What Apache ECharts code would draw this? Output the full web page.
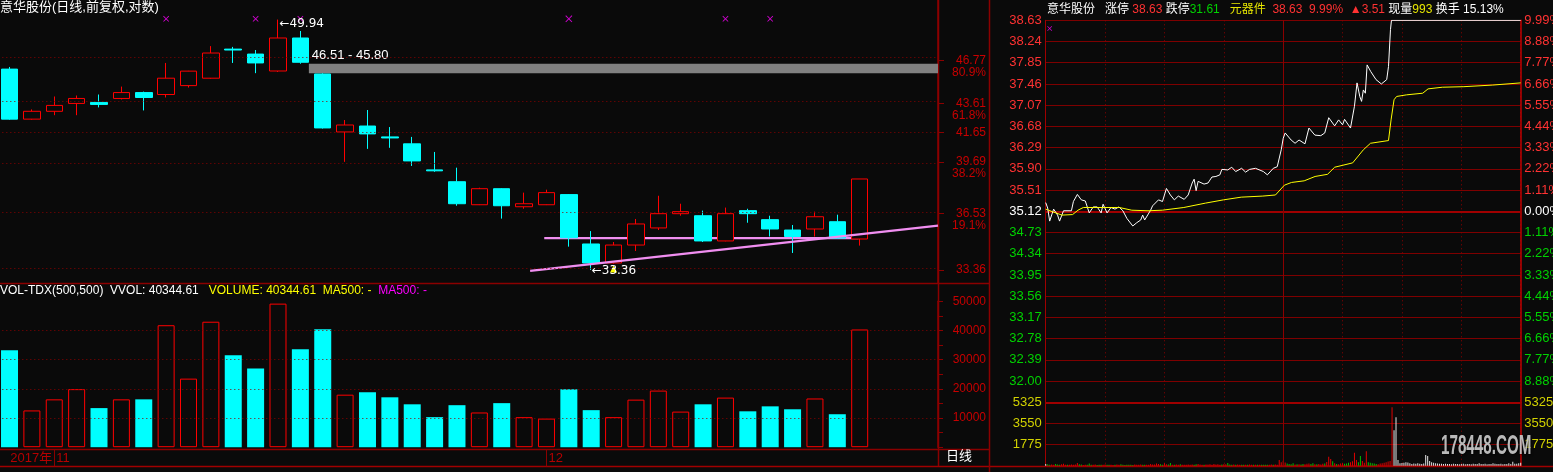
<!DOCTYPE html>
<html><head><meta charset="utf-8">
<script src="https://cdn.jsdelivr.net/npm/echarts@6/dist/echarts.min.js"></script>
<style>html,body{margin:0;padding:0;background:#0a0a0a;}#c{width:1553px;height:472px;}</style>
</head><body><div id="c"></div>
<script>
// ---------------- daily K-line data (前复权) ----------------
const dates = ['2017-10-30','2017-10-31','2017-11-01','2017-11-02','2017-11-03','2017-11-06','2017-11-07','2017-11-08','2017-11-09','2017-11-10',
 '2017-11-13','2017-11-14','2017-11-15','2017-11-16','2017-11-17','2017-11-20','2017-11-21','2017-11-22','2017-11-23','2017-11-24',
 '2017-11-27','2017-11-28','2017-11-29','2017-11-30','2017-12-01','2017-12-04','2017-12-05','2017-12-06','2017-12-07','2017-12-08',
 '2017-12-11','2017-12-12','2017-12-13','2017-12-14','2017-12-15','2017-12-18','2017-12-19','2017-12-20','2017-12-21'];
const blankSlots = [' ', '  ', '   '];
const opens  = [46.11,42.54,43.08,43.63,43.70,43.98,44.40,44.26,44.90,45.44,47.62,47.24,45.97,48.48,45.75,41.67,42.07,41.34,40.88,39.20,
                38.46,37.06,38.03,36.94,37.06,37.67,34.79,33.74,34.73,35.70,36.53,36.41,34.96,36.71,36.18,35.58,35.64,36.06,35.07];
const closes = [42.54,43.08,43.49,43.98,43.56,44.40,44.05,45.44,45.96,47.32,47.55,46.57,48.48,46.62,41.94,42.14,41.54,41.27,39.77,39.14,
                37.12,38.03,37.00,37.12,37.79,35.14,33.74,34.73,35.93,36.53,36.65,34.96,36.53,36.53,35.64,35.21,36.35,35.12,38.63];
const lows   = [42.50,42.50,42.81,42.81,43.35,43.91,43.14,44.05,44.76,45.40,46.57,45.81,45.90,46.51,41.90,39.71,40.55,40.62,39.45,39.08,
                37.00,37.04,36.24,36.82,37.04,34.64,33.36,33.70,34.40,35.58,36.41,34.90,34.94,36.00,35.21,34.29,35.21,35.10,34.70];
const highs  = [46.27,43.21,44.12,44.19,44.26,44.83,44.47,46.57,45.98,47.85,47.79,47.55,49.94,49.03,45.80,42.48,43.17,42.00,41.34,40.35,
                39.34,38.09,38.06,37.79,37.97,37.70,35.52,34.90,36.22,37.60,37.12,36.71,36.89,36.82,36.41,35.87,36.65,36.47,38.63];
const volumes = [33200,12600,16400,19900,13400,16400,16400,41800,23500,43000,31500,27000,49200,33600,40400,18000,18800,17100,14700,10300,
                 14400,11900,15100,10300,9800,19900,12700,10300,16300,19400,12200,14700,17000,12300,14000,13000,16700,11300,40344.61];
// price axis tick labels (golden-section levels) and their percent labels
const kTickPrices = [33.36, 36.53, 39.69, 41.65, 43.61, 46.77];
const kTickPcts   = ['', '19.1%', '38.2%', '', '61.8%', '80.9%'];
const volTicks = [10000, 20000, 30000, 40000];
// top signal markers (magenta crosses) at these candles
const markerIdx = [7, 11, 13, 25, 32, 34];
const markerPrice = 50.0;
// hand-drawn trend lines [candle position, price]
const riseLine = [[23.27, 33.31], [41.5, 35.83]];
const flatLine = [[23.9, 35.12], [37.94, 35.12]];

// ---------------- intraday (分时) data for 2017-12-21 ----------------
const prevClose = 35.12, limitUp = 38.63, limitDown = 31.61, priceStep = 0.39;
const volTop = 5325, volStep = 1775;
const tickMinutes = [0,1,2,4,6,7,9,13,14,16,18,20,22,24,26,28,29,31,33,35,37,39,41,44,46,48,49,50,53,54,
  57,59,61,63,65,67,70,72,74,75,76,77,80,82,84,86,88,89,92,94,96,99,101,103,106,110,112,115,117,119,
  120,121,124,126,128,131,133,136,139,141,143,146,148,150,151,154,156,157.3,158.7,159.6,
  160.5,161.5,162.4,164.2,166.9,169.6,172.3,173.2,174.2,174.7,240];
const tickPrices = [35.28,35.18,34.94,35.16,35.05,34.94,35.13,35.13,35.30,35.43,35.33,35.31,35.09,35.20,35.20,35.09,35.25,35.09,35.19,35.16,
  35.20,35.13,34.99,34.85,34.91,34.96,35.05,34.96,35.14,35.22,35.33,35.30,35.54,35.42,35.33,35.40,35.34,35.42,35.64,35.71,
  35.50,35.67,35.62,35.64,35.75,35.76,35.79,35.89,35.88,35.93,35.85,35.91,35.84,35.89,35.91,35.85,35.79,35.91,35.94,36.25,
  36.46,36.56,36.43,36.37,36.43,36.36,36.65,36.52,36.51,36.56,36.84,36.69,36.80,36.71,36.81,36.65,37.05,37.48,37.23,37.14,
  37.35,37.29,37.81,37.69,37.54,37.46,37.54,37.78,38.46,38.63,38.63];
const avgMinutes = [0,3.6,8.2,13.6,16.3,19,26.3,37.2,43.5,51.7,58.9,69.8,80.7,89.8,98.8,109.7,116.1,120.6,124.2,130.6,
  136.1,142.4,146,155.1,160.5,164.1,173.2,174.5,176,177.3,182.3,190.5,193.2,200.4,211.3,225.9,240];
const avgPrices = [35.16,35.11,35.05,35.06,35.14,35.19,35.19,35.19,35.14,35.13,35.14,35.19,35.27,35.33,35.38,35.40,35.42,35.60,35.65,35.68,
  35.76,35.80,35.93,36.01,36.25,36.37,36.42,36.80,37.17,37.23,37.26,37.29,37.37,37.40,37.41,37.44,37.48];
const minuteVolumes = [
  150,120,90,110,80,140,100,90,120,160,   90,80,70,110,90,100,230,120,100,60,
  90,70,180,90,80,110,60,90,80,70,        110,80,70,90,60,80,100,90,120,80,
  60,90,70,80,60,100,80,70,110,90,        80,70,80,150,110,100,180,140,120,90,
  200,120,100,230,90,80,110,90,120,80,    90,70,110,80,100,90,120,140,100,80,
  90,110,100,130,90,140,100,120,90,110,   120,130,230,100,90,110,80,100,90,70,
  80,90,70,100,80,90,70,80,90,80,         70,90,80,70,100,90,110,80,480,300,
  420,260,180,150,120,200,110,130,120,100, 140,120,160,180,140,200,130,120,150,110,
  160,180,320,753,560,380,200,150,120,180, 200,160,180,250,300,380,1090,480,300,812,
  400,250,1230,300,250,200,180,150,120,180, 200,250,300,350,400,4940,2990,4100,477,200,
  220,250,300,280,200,150,180,160,200,170, 150,180,895,810,400,300,250,200,180,160,
  170,150,160,140,150,130,160,140,150,130, 140,160,130,150,140,130,160,150,140,200,
  150,140,160,130,150,140,200,170,150,140, 160,130,150,140,200,150,335,160,170,200,
  250];
const minuteVolDir = ['wggrrgggrr','rgrrrrrggr','rgggrrgggr','rggrrgrrgg','gggggrrrrg','grrrrrrrgg','rrggrgrrgr','rrrrrggrrr',
  'grrrrrrrrg','rrgggrgrrg','grgrrgrgrg','gggrrgrrrr','rrggggrgrg','grrrggrgrr','rgrrrgrgrr','rgggrrrrgg','rrrgggggrr','rrrrrrwwww',
  'wwwwwwwwww','wwwwwwwwww','wwwwwwwwww','wwwwwwwwww','wwwwwwwwww','wwwwwwwwww','w'].join('');
const intraMarker = [2, 38.48];

// ---------------- layout / style ----------------
const LN = Math.log;
const axisTopPrice = 51.54, axisBottomPrice = 32.67;
const FONT = '"Liberation Sans", "Noto Sans CJK SC", sans-serif';
const BG = '#0a0a0a', CYAN = '#00ffff', RED = '#ff0000', FRAME = '#8b0000', DOT = '#8a0000';
const AX_RED = '#c80000', DATE_RED = '#b40000';
const upC = '#ff3232', dnC = '#00d200', YEL = '#d2d200';

const cats = dates.concat(blankSlots);
const kData = dates.map((d, i) => [LN(opens[i]), LN(closes[i]), LN(lows[i]), LN(highs[i])]);
const hiIdx = highs.indexOf(Math.max(...highs));
const loIdx = lows.indexOf(Math.min(...lows));
const gapTop = lows[13], gapBottom = highs[14];

const kTickLn = kTickPrices.map(LN);
const pctOf = v => { const i = kTickLn.findIndex(t => Math.abs(t - v) < 1e-6); return i >= 0 ? kTickPcts[i] : ''; };
const priceOf = v => { const i = kTickLn.findIndex(t => Math.abs(t - v) < 1e-6); return i >= 0 ? kTickPrices[i].toFixed(2) : ''; };

const volData = volumes.map((v, i) => closes[i] >= opens[i]
  ? { value: v, itemStyle: { color: BG, borderColor: RED, borderWidth: 1 } }
  : { value: v, itemStyle: { color: CYAN } });

const firstMonthIdx = dates.findIndex((d, i) => i > 0 && d.slice(5, 7) !== dates[i - 1].slice(5, 7));
const isMonthStart = (idx) => idx > 0 && idx < dates.length && dates[idx].slice(5, 7) !== dates[idx - 1].slice(5, 7);

const near = (a, b) => Math.abs(a - b) < 0.001;
const priceColor = v => { v = parseFloat(v); return near(v, prevClose) ? '#ffffff' : (v > prevClose ? upC : dnC); };
const dirColor = { r: '#e00000', g: '#00c000', w: '#e6e6e6' };

const xPath = 'path://M0,1L1,0L5,4L9,0L10,1L6,5L10,9L9,10L5,6L1,10L0,9L4,5Z';
const NOZ = { onZero: false };

const option = {
  backgroundColor: BG,
  animation: false,
  textStyle: { fontFamily: FONT },
  title: [
    { text: '意华股份(日线,前复权,对数)', left: 0, top: 1, padding: 0,
      textStyle: { color: '#ffffff', fontSize: 13, fontWeight: 'normal', fontFamily: FONT } },
    { text: '{w|VOL-TDX(500,500)  VVOL: 40344.61}   {y|VOLUME: 40344.61  MA500: -}  {m|MA500: -}',
      left: 0, top: 285, padding: 0,
      textStyle: { fontSize: 12, fontWeight: 'normal', fontFamily: FONT,
        rich: { w: { color: '#ffffff', fontSize: 12, fontFamily: FONT }, y: { color: '#ffff00', fontSize: 12, fontFamily: FONT }, m: { color: '#ff00ff', fontSize: 12, fontFamily: FONT } } } },
    { text: '{w|意华股份   涨停 }{r|38.63} {w|跌停}{g|31.61}   {y|元器件}  {r|38.63  9.99%  ▲3.51} {w|现量}{y|993} {w|换手 15.13%}',
      left: 1047, top: 4, padding: 0,
      textStyle: { fontSize: 12, fontWeight: 'normal', fontFamily: FONT,
        rich: { w: { color: '#ffffff', fontSize: 12, fontFamily: FONT }, r: { color: upC, fontSize: 12, fontFamily: FONT },
                g: { color: dnC, fontSize: 12, fontFamily: FONT }, y: { color: '#e6e600', fontSize: 12, fontFamily: FONT } } } },
    { text: '日线', left: 946, top: 450, padding: 0,
      textStyle: { color: '#ffffff', fontSize: 13, fontWeight: 'normal', fontFamily: FONT } }
  ],
  grid: [
    { left: -1.67, top: 0, width: 939.67, height: 283, outerBoundsMode: 'none', containLabel: false },
    { left: -1.67, top: 301.3, width: 939.67, height: 145.9, outerBoundsMode: 'none', containLabel: false },
    { left: 1045.7, top: 20.3, width: 475, height: 382, outerBoundsMode: 'none', containLabel: false },
    { left: 1045.7, top: 402.7, width: 475, height: 63, outerBoundsMode: 'none', containLabel: false }
  ],
  xAxis: [
    { gridIndex: 0, type: 'category', position: 'bottom', data: cats, show: false, axisLine: { show: false, onZero: false }, splitLine: { show: false } },
    { gridIndex: 0, type: 'value', position: 'bottom', min: -0.5, max: cats.length - 0.5, show: false, axisLine: { show: false, onZero: false }, splitLine: { show: false } },
    { gridIndex: 1, type: 'category', position: 'bottom', data: cats, offset: 2,
      axisLine: { show: false, onZero: false },
      axisTick: { show: true, alignWithLabel: true, length: 17, interval: (idx) => isMonthStart(idx), lineStyle: { color: FRAME, width: 1 } },
      axisLabel: { show: true, interval: (idx) => isMonthStart(idx), margin: 3, align: 'left', padding: [0, 0, 0, 2], hideOverlap: false,
        color: DATE_RED, fontSize: 13, fontFamily: FONT,
        formatter: (val) => String(parseInt(val.slice(5, 7), 10)) },
      splitLine: { show: false } },
    { gridIndex: 2, type: 'value', position: 'bottom', min: 0, max: 240, interval: 30,
      axisLine: { show: false, onZero: false }, axisTick: { show: false }, axisLabel: { show: false },
      splitLine: { show: true, lineStyle: { color: FRAME, type: [1, 3], width: 1 } } },
    { gridIndex: 3, type: 'value', position: 'bottom', min: 0, max: 240, interval: 30,
      axisLine: { show: false, onZero: false }, axisTick: { show: false }, axisLabel: { show: false },
      splitLine: { show: true, lineStyle: { color: FRAME, type: [1, 3], width: 1 } } },
    { gridIndex: 1, type: 'category', position: 'bottom', data: cats, offset: 2,
      axisLine: { show: false, onZero: false }, axisTick: { show: false }, splitLine: { show: false },
      axisLabel: { show: true, interval: (idx) => idx === firstMonthIdx, margin: 3, align: 'right', padding: [0, 2, 0, 0], hideOverlap: false,
        color: DATE_RED, fontSize: 13, fontFamily: FONT,
        formatter: (val) => val.slice(0, 4) + '年' } }
  ],
  yAxis: [
    { gridIndex: 0, type: 'value', position: 'right', min: LN(axisBottomPrice), max: LN(axisTopPrice),
      axisLine: { show: true, onZero: false, lineStyle: { color: FRAME, width: 1.5 } },
      axisTick: { show: true, customValues: kTickLn, length: 6, lineStyle: { color: FRAME, width: 1 } },
      axisLabel: { show: true, customValues: kTickLn, formatter: priceOf, color: AX_RED, fontSize: 12, fontFamily: FONT, align: 'right', margin: 48 },
      splitLine: { show: false } },
    { gridIndex: 0, type: 'value', position: 'right', min: LN(axisBottomPrice), max: LN(axisTopPrice),
      axisLine: { show: false, onZero: false }, axisTick: { show: false },
      axisLabel: { show: true, customValues: kTickLn, formatter: pctOf, color: AX_RED, fontSize: 12, fontFamily: FONT, align: 'right', margin: 48,
        verticalAlign: 'top', lineHeight: 12, padding: [6, 0, 0, 0] },
      splitLine: { show: false } },
    { gridIndex: 1, type: 'value', position: 'right', min: 0, max: 50000, interval: 5000,
      axisLine: { show: true, onZero: false, lineStyle: { color: FRAME, width: 1.5 } },
      axisTick: { show: true, length: 5, lineStyle: { color: FRAME } },
      axisLabel: { show: true, formatter: v => (v > 0 && v % 10000 === 0) ? String(v) : '', color: AX_RED, fontSize: 12, fontFamily: FONT, align: 'right', margin: 48 },
      splitLine: { show: false } },
    { gridIndex: 2, type: 'value', position: 'left', min: limitDown, max: limitUp, interval: priceStep,
      axisLine: { show: true, onZero: false, lineStyle: { color: '#a00000', width: 1 } }, axisTick: { show: false },
      axisLabel: { show: true, formatter: v => near(v, limitDown) ? '' : Number(v).toFixed(2), color: priceColor, fontSize: 13, fontFamily: FONT, margin: 4 },
      splitLine: { show: true, lineStyle: { color: '#7e0000', width: 1 } } },
    { gridIndex: 2, type: 'value', position: 'right', min: limitDown, max: limitUp, interval: priceStep,
      axisLine: { show: true, onZero: false, lineStyle: { color: '#c00000', width: 1.5 } }, axisTick: { show: false },
      axisLabel: { show: true, formatter: v => near(v, limitDown) ? '' : Math.abs((v - prevClose) / prevClose * 100).toFixed(2) + '%',
        color: priceColor, fontSize: 13, fontFamily: FONT, margin: 3.5 },
      splitLine: { show: false } },
    { gridIndex: 3, type: 'value', position: 'left', min: 0, max: volTop, interval: volStep,
      axisLine: { show: true, onZero: false, lineStyle: { color: '#a00000', width: 1 } }, axisTick: { show: false },
      axisLabel: { show: true, formatter: v => v > 0 ? String(v) : '', color: YEL, fontSize: 13, fontFamily: FONT, margin: 4 },
      splitLine: { show: true, lineStyle: { color: '#7e0000', width: 1 } } },
    { gridIndex: 3, type: 'value', position: 'right', min: 0, max: volTop, interval: volStep,
      axisLine: { show: true, onZero: false, lineStyle: { color: '#c00000', width: 1.5 } }, axisTick: { show: false },
      axisLabel: { show: true, formatter: v => v > 0 ? String(v) : '', color: YEL, fontSize: 13, fontFamily: FONT, margin: 3.5 },
      splitLine: { show: false } }
  ],
  series: [
    { type: 'candlestick', xAxisIndex: 0, yAxisIndex: 0, data: kData, barWidth: 17, silent: true,
      itemStyle: { color: BG, color0: CYAN, borderColor: RED, borderColor0: CYAN, borderWidth: 1 },
      markLine: { silent: true, symbol: ['none', 'none'], label: { show: false },
        lineStyle: { color: DOT, type: [1, 3], width: 1 }, data: kTickLn.map(v => ({ yAxis: v })) },
      markPoint: { silent: true, symbol: 'circle', symbolSize: 1, itemStyle: { color: 'rgba(0,0,0,0)' },
        label: { show: true, position: 'right', distance: 0, color: '#ffffff', fontSize: 12, fontFamily: '"DejaVu Sans", "Liberation Sans", sans-serif', formatter: p => p.name },
        data: [
          { name: '←' + highs[hiIdx].toFixed(2), coord: [dates[hiIdx], LN(highs[hiIdx])], label: { offset: [1, 4] } },
          { name: '←' + lows[loIdx].toFixed(2), coord: [dates[loIdx], LN(lows[loIdx])], label: { offset: [0, 1] } },
          { name: '', coord: [dates[27], LN(33.42)], symbol: 'triangle', symbolSize: [7, 7], itemStyle: { color: '#ffff00' }, label: { show: false } }
        ] } },
    { type: 'scatter', xAxisIndex: 0, yAxisIndex: 0, silent: true, symbol: xPath, symbolSize: 6,
      itemStyle: { color: '#ff00ff' },
      data: markerIdx.map(i => ({ value: [dates[i], LN(markerPrice)], symbolSize: i === 25 ? 7 : 6 })) },
    { type: 'line', xAxisIndex: 1, yAxisIndex: 0, silent: true, symbol: 'none',
      lineStyle: { color: '#f08ef0', width: 2.2 }, data: riseLine.map(p => [p[0], LN(p[1])]) },
    { type: 'line', xAxisIndex: 1, yAxisIndex: 0, silent: true, symbol: 'none', z: 1,
      lineStyle: { color: '#f08ef0', width: 2.2 }, data: flatLine.map(p => [p[0], LN(p[1])]),
      markArea: { silent: true, itemStyle: { color: '#808080' },
        label: { show: true, position: [3, -15], color: '#ffffff', fontSize: 13, fontFamily: FONT },
        data: [[ { name: gapTop.toFixed(2) + ' - ' + gapBottom.toFixed(2), coord: [13.38, LN(gapTop)] },
                 { coord: [cats.length - 0.5, LN(gapBottom)] } ]] } },
    { type: 'bar', xAxisIndex: 2, yAxisIndex: 2, data: volData, barWidth: 17, silent: true,
      markLine: { silent: true, symbol: ['none', 'none'], label: { show: false },
        lineStyle: { color: DOT, type: [1, 3], width: 1 }, data: volTicks.map(v => ({ yAxis: v })) } },
    { type: 'line', xAxisIndex: 3, yAxisIndex: 3, silent: true, symbol: 'none', z: 3,
      lineStyle: { color: '#ffffff', width: 1 }, data: tickMinutes.map((m, i) => [m, tickPrices[i]]),
      markLine: { silent: true, symbol: ['none', 'none'], label: { show: false }, z: 1,
        data: [ { yAxis: prevClose, lineStyle: { color: '#a00000', width: 2, type: 'solid' } },
                { xAxis: 120, lineStyle: { color: '#8b0000', width: 1, type: 'solid' } } ] } },
    { type: 'line', xAxisIndex: 3, yAxisIndex: 3, silent: true, symbol: 'none', z: 3,
      lineStyle: { color: '#ffff00', width: 1 }, data: avgMinutes.map((m, i) => [m, avgPrices[i]]) },
    { type: 'scatter', xAxisIndex: 3, yAxisIndex: 3, silent: true, symbol: xPath, symbolSize: 5,
      itemStyle: { color: '#ff00ff' }, data: [intraMarker] },
    { type: 'bar', xAxisIndex: 4, yAxisIndex: 5, silent: true, barWidth: 1,
      data: minuteVolumes.map((v, i) => ({ value: [i, v], itemStyle: { color: dirColor[minuteVolDir[i]] } })),
      markLine: { silent: true, symbol: ['none', 'none'], label: { show: false },
        data: [ { xAxis: 120, lineStyle: { color: '#8b0000', width: 1, type: 'solid' } },
                { yAxis: volTop, lineStyle: { color: '#a00000', width: 2, type: 'solid' } } ] } }
  ],
  graphic: [
    { type: 'line', silent: true, shape: { x1: 0, y1: 283.5, x2: 989, y2: 283.5 }, style: { stroke: FRAME, lineWidth: 1.5 } },
    { type: 'line', silent: true, shape: { x1: 0, y1: 449.5, x2: 989, y2: 449.5 }, style: { stroke: FRAME, lineWidth: 1.5 } },
    { type: 'line', silent: true, shape: { x1: 0, y1: 466.5, x2: 1553, y2: 466.5 }, style: { stroke: '#a00000', lineWidth: 1.5 } },
    { type: 'line', silent: true, shape: { x1: 938.5, y1: 0, x2: 938.5, y2: 466 }, style: { stroke: FRAME, lineWidth: 1.5 } },
    { type: 'line', silent: true, shape: { x1: 989.5, y1: 0, x2: 989.5, y2: 472 }, style: { stroke: FRAME, lineWidth: 1.5 } },
    { type: 'text', silent: true, x: 1441, y: 432, scaleX: 0.76, scaleY: 1.4, z: 100,
      style: { text: '178448.COM', fill: 'rgba(205,205,205,0.9)', font: 'bold 20px "Liberation Sans", sans-serif',
               textShadowColor: 'rgba(0,0,0,0.8)', textShadowBlur: 2, textShadowOffsetX: 1, textShadowOffsetY: 1 } }
  ]
};
const chart = echarts.init(document.getElementById('c'));
chart.setOption(option);
</script>
</body></html>
